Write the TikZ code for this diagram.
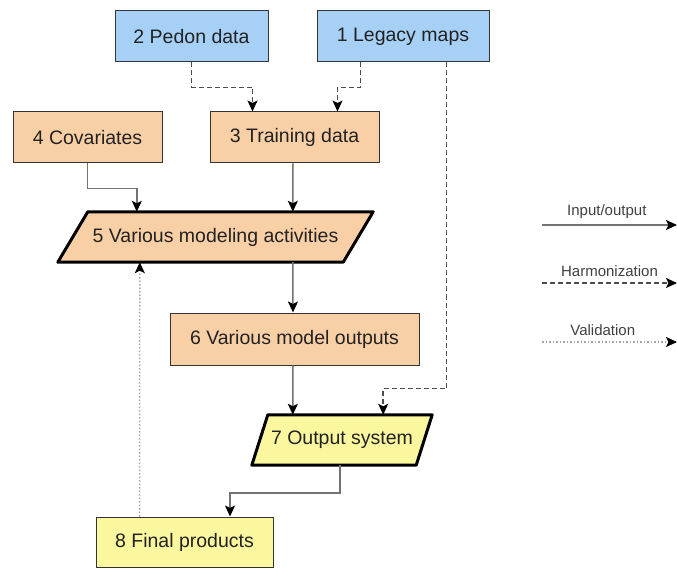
\documentclass[tikz,border=0pt]{standalone}
\usepackage{fontspec}
\setmainfont{Liberation Sans}
\usetikzlibrary{arrows.meta,calc}
\definecolor{cblue}{HTML}{A6D0F5}
\definecolor{corange}{HTML}{F9D0A6}
\definecolor{cyellow}{HTML}{FBF79F}
\definecolor{txt}{HTML}{222222}
\tikzset{
  box/.style={draw=black!80, line width=1pt, inner sep=0pt, text=txt,
    font=\fontsize{19.5}{22}\selectfont},
  ghost/.style={inner sep=0pt, text=txt, font=\fontsize{19.5}{22}\selectfont},
  para/.style={draw=black, line width=3pt, line join=round},
  tipA/.style={-{Stealth[length=11pt,width=10pt,inset=2.5pt,color=black]}},
  io/.style={tipA, draw=black!55, line width=1.5pt},
  harm/.style={tipA, draw=black!70, line width=1.5pt, dash pattern=on 5pt off 3pt},
  valid/.style={tipA, draw=black!35, line width=1.5pt, dash pattern=on 1.5pt off 2pt},
  legtext/.style={text=black!75, font=\fontsize{15}{17}\selectfont, inner sep=1pt}
}
\begin{document}
\begin{tikzpicture}[x=1pt,y=-1pt]
\useasboundingbox (0,0) rectangle (677,569);
% boxes
\node[box, fill=cblue, minimum width=153pt, minimum height=51pt] (n2) at (191.5,36.5) {2 Pedon data};
\node[box, fill=cblue, minimum width=172pt, minimum height=51pt] (n1) at (403,36.5) {1 Legacy maps};
\node[box, fill=corange, minimum width=149pt, minimum height=51pt] (n4) at (87.5,137.5) {4 Covariates};
\node[box, fill=corange, minimum width=169pt, minimum height=51pt] (n3) at (294.5,137.5) {3 Training data};
% parallelogram 5
\node[ghost, minimum width=285pt, minimum height=50pt] (n5) at (215.5,237) {};
\draw[para, fill=corange] ($(n5.north west)+(15,0)$) -- ($(n5.north east)+(15,0)$) -- ($(n5.south east)+(-15,0)$) -- ($(n5.south west)+(-15,0)$) -- cycle;
\node[ghost] at (n5.center) {5 Various modeling activities};
\node[box, fill=corange, minimum width=249pt, minimum height=52pt] (n6) at (294.5,339) {6 Various model outputs};
% parallelogram 7
\node[ghost, minimum width=164pt, minimum height=50pt] (n7) at (342,440) {};
\draw[para, fill=cyellow] ($(n7.north west)+(8,0)$) -- ($(n7.north east)+(8,0)$) -- ($(n7.south east)+(-8,0)$) -- ($(n7.south west)+(-8,0)$) -- cycle;
\node[ghost] at (n7.center) {7 Output system};
\node[box, fill=cyellow, minimum width=177pt, minimum height=50pt] (n8) at (184.5,542) {8 Final products};
% connectors
\draw[harm] (n2.south) -- ++(0,25) -| ($(n3.north west)+(43,0)$);
\draw[harm] ($(n1.south west)+(44,0)$) -- ++(0,25) -| ($(n3.north east)+(-42,0)$);
\draw[harm] ($(n1.south east)+(-43,0)$) -- ++(0,326) -| ($(n7.north east)+(-41,0)$);
\draw[io] (n4.south) -- ++(0,25) -| ($(n5.north west)+(64,0)$);
\draw[io] ($(n3.south)+(-1.5,0)$) -- ($(n5.north west)+(220,0)$);
\draw[io] ($(n5.south west)+(220,0)$) -- ($(n6.north)+(-1.5,0)$);
\draw[io] ($(n6.south)+(-1.5,0)$) -- ($(n7.north west)+(33,0)$);
\draw[io] ($(n7.south)+(-2,0)$) -- ++(0,28) -| ($(n8.north)+(45.5,0)$);
\draw[valid] ($(n8.north west)+(44,0)$) -- ($(n5.south west)+(67,0)$);
% legend
\coordinate (l1a) at (542,225); \coordinate (l1b) at (677,225);
\coordinate (l2a) at (542,283); \coordinate (l2b) at (677,283);
\coordinate (l3a) at (542,342); \coordinate (l3b) at (677,342);
\draw[io] (l1a) -- (l1b);
\draw[harm] (l2a) -- (l2b);
\draw[valid] (l3a) -- (l3b);
\node[legtext, anchor=south] (t1) at ($(l1a)!0.48!(l1b)+(0,-5)$) {Input/output};
\node[legtext, anchor=south] (t2) at ($(l2a)!0.5!(l2b)+(0,-5)$) {Harmonization};
\node[legtext, anchor=south] (t3) at ($(l3a)!0.45!(l3b)+(0,-5)$) {Validation};
\end{tikzpicture}
\end{document}
